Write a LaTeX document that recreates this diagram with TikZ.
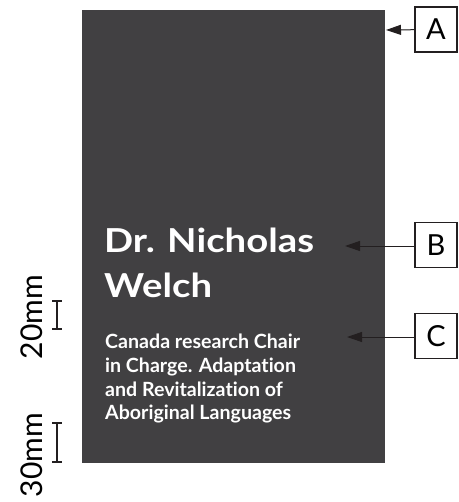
\documentclass[tikz,border=0pt]{standalone}
\usepackage{fontspec}
\setmainfont[Ligatures=NoCommon]{Lato}
\newfontfamily\namefont[FakeStretch=1.16,Ligatures=NoCommon]{Lato}
\usetikzlibrary{arrows.meta,positioning}
\definecolor{card}{HTML}{414042}
\definecolor{ink}{HTML}{231F20}

\begin{document}
\begin{tikzpicture}[x=1pt, y=-1pt,
  tag/.style={draw=ink, line width=1.1pt, minimum width=42pt, minimum height=45pt,
              inner sep=0pt, font=\fontsize{29}{29}\selectfont},
  arr/.style={-{Triangle[length=15pt,width=10pt]}, draw=ink, fill=ink, line width=1pt},
  bar/.style={draw=ink, line width=1.2pt},
  dim/.style={rotate=90, inner sep=0pt, font=\fontsize{30}{30}\selectfont}
]
\useasboundingbox (0,0) rectangle (458,502);
\fill[card] (82,10) rectangle (385,463);
% texts on the card
\node[anchor=north west, inner sep=0pt, align=left, text=white,
      font=\namefont\fontsize{33}{45}\selectfont\bfseries] (name) at (104,228)
  {Dr. Nicholas\\Welch};
\node[anchor=north west, inner sep=0pt, align=left, text=white,
      font=\fontsize{19.6}{23.7}\selectfont\bfseries] (post) at (105,334)
  {Canada research Chair\\in Charge. Adaptation\\and Revitalization of\\Aboriginal Languages};
% callouts
\node[tag] (A) at (436,29.5) {A};
\node[tag] (B) at (436,245) {B};
\node[tag] (C) at (436,336) {C};
\coordinate (a) at (386,30);
\coordinate (b) at (345,246);
\coordinate (c) at (347,337);
\draw[arr] (A) -- (a);
\draw[arr] (B.west |- b) -- (b);
\draw[arr] (C.west |- c) -- (c);
% margins
\draw[bar] (57,301) -- (57,329) (52,301) -- (62,301) (52,329) -- (62,329);
\draw[bar] (57,423) -- (57,462) (52,423) -- (62,423) (52,462) -- (62,462);
\node[dim] (d20) at (32,317) {20mm};
\node[dim] (d30) at (32,455) {30mm};
\end{tikzpicture}
\end{document}
